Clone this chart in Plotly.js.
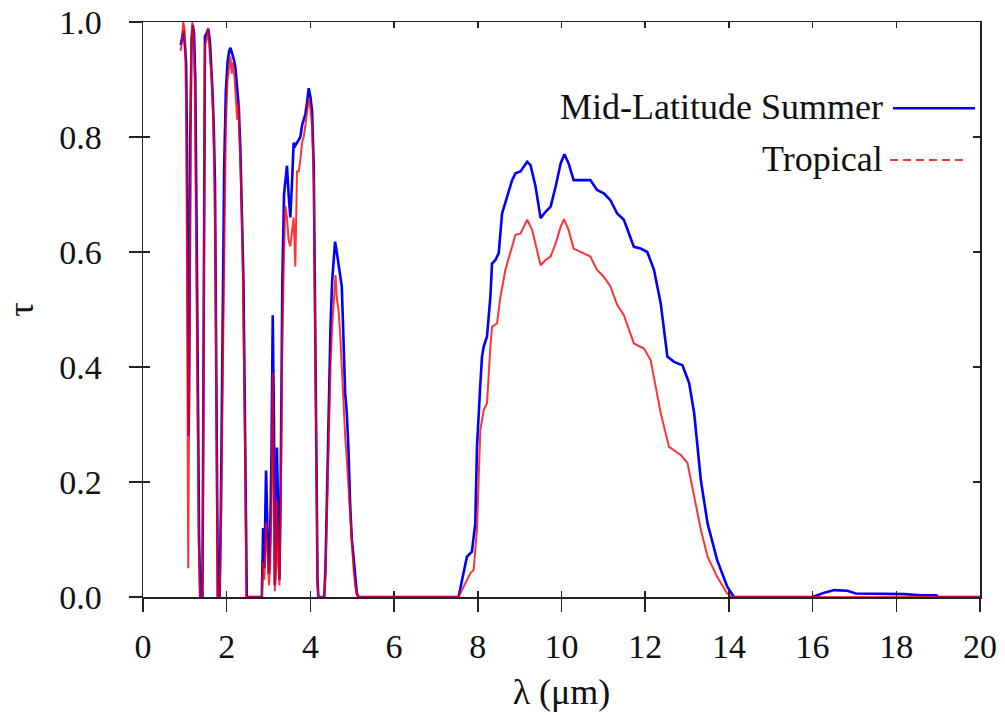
<!DOCTYPE html>
<html>
<head>
<meta charset="utf-8">
<script src="https://cdn.plot.ly/plotly-3.0.1.min.js"></script>
<style>html,body{margin:0;padding:0;background:#fff;}#chart{width:1005px;height:715px;}</style>
</head>
<body>
<div id="chart"></div>
<script>
// Mid-Latitude Summer (blue)
const mlsLambda = [
  0.90,0.93,0.97,1.00,1.03,1.05,1.07,1.09,1.11,1.13,1.16,1.19,1.22,1.25,1.28,1.31,1.34,1.37,1.42,
  1.44,1.46,1.48,1.52,1.56,1.60,1.63,1.66,1.69,1.72,1.75,1.77,1.79,1.83,
  1.86,1.90,1.94,1.98,2.02,2.06,2.09,2.13,2.17,2.21,2.25,2.29,2.33,2.37,2.40,2.43,2.46,2.48,2.84,
  2.87,2.90,2.94,2.98,3.01,3.04,3.07,3.10,3.13,3.15,3.18,3.20,3.23,3.26,
  3.29,3.33,3.37,3.41,3.44,3.48,3.52,3.56,3.60,3.64,3.68,3.72,3.76,3.80,3.84,3.88,3.92,3.96,4.00,4.04,4.08,4.11,4.14,4.17,4.19,4.33,
  4.36,4.40,4.44,4.48,4.52,4.56,4.59,4.63,4.67,4.71,4.75,4.79,4.83,4.87,4.91,4.95,4.99,5.03,5.07,5.11,5.15,7.54,
  7.74,7.86,7.94,7.98,8.06,8.10,8.14,8.22,8.30,8.34,8.42,8.50,8.58,8.66,8.82,8.90,9.02,9.18,9.26,9.38,9.50,9.62,9.74,9.86,9.98,
  10.07,10.17,10.29,10.45,10.69,10.85,11.01,11.17,11.33,11.49,11.73,11.89,12.05,12.21,12.37,12.53,12.69,12.89,13.05,13.17,13.33,13.49,13.72,13.96,14.12,
  16.00,16.12,16.30,16.52,16.83,17.03,17.31,18.03,18.19,18.59,18.95,19.00,20.00
];
const mlsTau = [
  0.96,0.97,0.985,0.96,0.93,0.80,0.50,0.28,0.45,0.80,0.97,0.995,0.98,0.90,0.65,0.35,0.10,0.0,0.0,
  0.30,0.80,0.975,0.98,0.988,0.965,0.93,0.88,0.82,0.72,0.40,0.10,0.0,0.0,
  0.15,0.45,0.75,0.88,0.93,0.95,0.955,0.945,0.935,0.92,0.89,0.85,0.77,0.66,0.55,0.35,0.08,0.0,0.0,
  0.12,0.05,0.22,0.10,0.04,0.11,0.25,0.49,0.30,0.02,0.10,0.26,0.10,0.03,
  0.20,0.55,0.70,0.73,0.75,0.70,0.66,0.72,0.79,0.785,0.79,0.795,0.80,0.82,0.83,0.84,0.86,0.885,0.87,0.845,0.75,0.50,0.20,0.03,0.0,0.0,
  0.05,0.20,0.35,0.47,0.55,0.60,0.618,0.60,0.58,0.56,0.54,0.45,0.355,0.32,0.256,0.16,0.10,0.07,0.03,0.006,0.0,0.0,
  0.07,0.079,0.128,0.26,0.37,0.418,0.435,0.453,0.522,0.58,0.586,0.598,0.667,0.687,0.725,0.737,0.74,0.757,0.751,0.714,0.659,0.67,0.679,0.714,0.754,
  0.770,0.754,0.725,0.725,0.725,0.708,0.702,0.690,0.667,0.656,0.609,0.606,0.60,0.569,0.511,0.418,0.409,0.403,0.372,0.32,0.203,0.128,0.064,0.018,0.0,
  0.0,0.003,0.008,0.012,0.011,0.006,0.006,0.006,0.005,0.003,0.003,0.0,0.0
];

// Tropical (red)
const tropLambda = [
  0.90,0.93,0.96,0.99,1.01,1.03,1.05,1.07,1.08,1.10,1.12,1.15,1.18,1.21,1.24,1.27,1.30,1.33,1.36,1.42,
  1.44,1.46,1.48,1.52,1.55,1.58,1.61,1.64,1.67,1.70,1.73,1.76,1.78,1.83,
  1.86,1.90,1.94,1.98,2.02,2.06,2.09,2.12,2.15,2.19,2.22,2.25,2.28,2.31,2.35,2.38,2.41,2.44,2.47,2.84,
  2.87,2.90,2.94,2.98,3.01,3.04,3.07,3.10,3.13,3.15,3.18,3.20,3.23,3.26,
  3.29,3.33,3.37,3.40,3.44,3.48,3.52,3.56,3.60,3.64,3.68,3.72,3.76,3.80,3.84,3.88,3.92,3.96,4.00,4.04,4.08,4.11,4.14,4.17,4.19,4.33,
  4.36,4.40,4.44,4.48,4.52,4.56,4.60,4.63,4.67,4.71,4.75,4.79,4.83,4.87,4.91,4.95,4.99,5.03,5.07,5.11,5.15,7.54,
  7.82,7.90,7.98,8.06,8.14,8.22,8.30,8.34,8.46,8.54,8.66,8.78,8.90,9.02,9.18,9.30,9.50,9.62,9.74,9.86,9.98,
  10.06,10.17,10.29,10.45,10.69,10.85,11.01,11.17,11.33,11.49,11.73,11.97,12.13,12.37,12.57,12.85,13.01,13.17,13.33,13.49,13.72,13.96,14.08,20.00
];
const tropTau = [
  0.95,0.965,1.0,0.99,0.96,0.85,0.60,0.25,0.05,0.30,0.70,0.95,1.0,0.98,0.88,0.62,0.35,0.10,0.0,0.0,
  0.25,0.75,0.96,0.97,0.99,0.96,0.93,0.90,0.85,0.76,0.60,0.20,0.0,0.0,
  0.10,0.35,0.62,0.82,0.90,0.93,0.94,0.91,0.93,0.90,0.85,0.83,0.86,0.80,0.70,0.60,0.45,0.25,0.0,0.0,
  0.06,0.03,0.13,0.05,0.02,0.06,0.15,0.39,0.20,0.01,0.06,0.17,0.06,0.02,
  0.15,0.45,0.60,0.68,0.66,0.62,0.61,0.64,0.66,0.575,0.74,0.74,0.76,0.79,0.80,0.82,0.84,0.867,0.85,0.82,0.72,0.46,0.18,0.02,0.0,0.0,
  0.04,0.16,0.30,0.40,0.47,0.52,0.56,0.52,0.50,0.46,0.40,0.33,0.28,0.24,0.19,0.13,0.08,0.05,0.02,0.004,0.0,0.0,
  0.041,0.047,0.117,0.29,0.325,0.337,0.435,0.47,0.476,0.522,0.569,0.598,0.63,0.632,0.656,0.638,0.577,0.586,0.592,0.615,0.644,
  0.657,0.638,0.606,0.60,0.592,0.569,0.557,0.54,0.508,0.49,0.441,0.432,0.412,0.32,0.261,0.247,0.233,0.175,0.117,0.07,0.035,0.006,0.0,0.0
];

const seriesNames = ["Mid-Latitude Summer", "Tropical"];
const xTickVals = [0,2,4,6,8,10,12,14,16,18,20];
const yTickVals = [0,0.2,0.4,0.6,0.8,1.0];

const FONT = "Liberation Serif, Times New Roman, serif";

const traces = [
  {x: mlsLambda, y: mlsTau, name: seriesNames[0], type: "scatter", mode: "lines",
   line: {color: "#0000ff", width: 2.6}, xaxis: "x", yaxis: "y", showlegend: false},
  {x: tropLambda, y: tropTau, name: seriesNames[1], type: "scatter", mode: "lines",
   line: {color: "rgba(255,0,0,0.8)", width: 2}, xaxis: "x2", yaxis: "y2", showlegend: false}
];

const axCommon = {showgrid: false, zeroline: false, linecolor: "#222", linewidth: 1.5, tickcolor: "#222", tickwidth: 1.5};

const layout = {
  width: 1005, height: 715,
  margin: {l: 143, r: 25, t: 22, b: 118},
  paper_bgcolor: "#fff", plot_bgcolor: "#fff",
  font: {family: FONT, size: 34, color: "#111"},
  showlegend: false,
  xaxis: Object.assign({}, axCommon, {
    range: [0, 20], tickvals: xTickVals, ticktext: xTickVals.map(String),
    ticks: "outside", ticklen: 13, showline: true, mirror: true,
    ticklabelstandoff: 6,
    tickfont: {family: FONT, size: 34, color: "#111"},
    title: {text: "λ (μm)", font: {family: FONT, size: 36, color: "#111"}, standoff: 14}
  }),
  yaxis: Object.assign({}, axCommon, {
    range: [0, 1], tickvals: yTickVals, ticktext: yTickVals.map(v => v.toFixed(1)),
    ticks: "outside", ticklen: 13, showline: true, mirror: true,
    ticklabelstandoff: 20,
    tickfont: {family: FONT, size: 34, color: "#111"},
    title: {text: "τ", font: {family: FONT, size: 36, color: "#111"}, standoff: 14}
  }),
  xaxis2: Object.assign({}, axCommon, {
    range: [0, 20], tickvals: xTickVals, overlaying: "x", anchor: "y2", side: "bottom",
    ticks: "inside", ticklen: 6, mirror: "ticks", showline: false, showticklabels: false
  }),
  yaxis2: Object.assign({}, axCommon, {
    range: [0, 1], tickvals: yTickVals, overlaying: "y", anchor: "x2", side: "left",
    ticks: "inside", ticklen: 7, mirror: "ticks", showline: false, showticklabels: false
  }),
  annotations: [
    {xref: "paper", yref: "paper", x: 0.8865, y: 0.852, xanchor: "right", yanchor: "middle",
     text: seriesNames[0], showarrow: false, font: {family: FONT, size: 36, color: "#111"}},
    {xref: "paper", yref: "paper", x: 0.8865, y: 0.762, xanchor: "right", yanchor: "middle",
     text: seriesNames[1], showarrow: false, font: {family: FONT, size: 36, color: "#111"}}
  ],
  shapes: [
    {type: "line", xref: "paper", yref: "paper", x0: 0.896, x1: 0.994, y0: 0.850, y1: 0.850,
     line: {color: "#0000ff", width: 2.6}},
    {type: "line", xref: "paper", yref: "paper", x0: 0.8925, x1: 0.985, y0: 0.760, y1: 0.760,
     line: {color: "rgba(255,0,0,0.8)", width: 2, dash: "8px,5px"}}
  ]
};

Plotly.newPlot("chart", traces, layout, {staticPlot: true, displayModeBar: false});
</script>
</body>
</html>
